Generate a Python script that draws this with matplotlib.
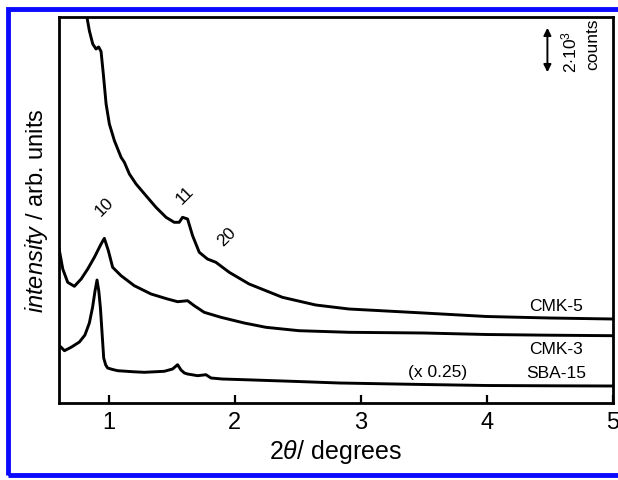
import matplotlib
matplotlib.use("Agg")
import matplotlib.pyplot as plt
from matplotlib.patches import Rectangle, FancyArrowPatch

plt.rcParams['font.family'] = ['Liberation Sans', 'DejaVu Sans']
plt.rcParams['mathtext.fontset'] = 'custom'
plt.rcParams['mathtext.rm'] = 'Liberation Sans'
plt.rcParams['mathtext.it'] = 'Liberation Sans:italic'

# ---- data (2theta in degrees, intensity in arb. units) ----
sba_x = [0.621, 0.647, 0.70, 0.766, 0.81, 0.845, 0.871, 0.89, 0.906, 0.92, 0.933,
         0.946, 0.959, 0.975, 0.99, 1.03, 1.07, 1.2, 1.282, 1.44, 1.506, 1.546,
         1.573, 1.60, 1.625, 1.705, 1.771, 1.811, 1.9, 2.075, 2.5, 2.83, 3.5,
         4.0, 4.5, 5.0]
sba_y = [55.7, 52.3, 55.7, 61, 68, 80, 96, 112, 123, 112, 95,
         70, 45, 38, 35, 33.5, 32.3, 31.2, 30.7, 31.7, 34, 38.3,
         33, 30, 29, 27.3, 28.3, 25, 24, 23.3, 21.5, 20, 18.5,
         17.5, 17.2, 17]

cmk3_x = [0.60, 0.634, 0.673, 0.726, 0.78, 0.832, 0.885, 0.938, 0.964, 0.996,
          1.03, 1.097, 1.202, 1.335, 1.466, 1.546, 1.625, 1.678, 1.757, 1.89,
          2.075, 2.247, 2.51, 2.907, 3.5, 4.0, 4.5, 5.0]
cmk3_y = [157.3, 134, 120.7, 116.7, 124, 134, 145.7, 159, 164.7, 152.3,
          135.7, 127.3, 117.3, 109, 104, 101.3, 102.3, 97.3, 90.7, 85.7,
          80, 75.7, 72.3, 70.7, 70, 68.5, 67.8, 67.3]

cmk5_x = [0.80, 0.824, 0.845, 0.872, 0.898, 0.919, 0.938, 0.956, 0.978, 1.004,
          1.044, 1.097, 1.123, 1.163, 1.216, 1.295, 1.374, 1.454, 1.519, 1.559,
          1.585, 1.625, 1.665, 1.718, 1.783, 1.85, 1.956, 2.114, 2.378, 2.643,
          2.907, 3.5, 4.0, 4.5, 5.0]
cmk5_y = [420, 387.3, 372.3, 359, 354, 356, 351.5, 329, 299, 279,
          262.3, 245.7, 240.7, 229, 219, 207.3, 195.7, 185.7, 180.7, 180.7,
          185.7, 184, 167.3, 150.7, 144, 140.7, 130.7, 119, 105.7, 98,
          94, 90, 86.5, 85, 84]

xticks = [1, 2, 3, 4, 5]

fig = plt.figure(figsize=(6.18, 4.81), dpi=100)
ax = fig.add_axes([58.5/618, 1 - 404/481, (612.5 - 58.5)/618, (404 - 17.5)/481])

lw = 2.1
for xs, ys in [(sba_x, sba_y), (cmk3_x, cmk3_y), (cmk5_x, cmk5_y)]:
    ax.plot(xs, ys, color='black', lw=lw, solid_joinstyle='round')

ax.set_xlim(0.6, 5.0)
ax.set_ylim(0, 386.5)
ax.set_xticks(xticks)
ax.set_xticklabels([str(t) for t in xticks])
ax.set_yticks([])
ax.tick_params(axis='x', direction='in', length=6, width=1.6, labelsize=17, pad=6)
for s in ax.spines.values():
    s.set_linewidth(2.0)

ax.set_xlabel(r'2$\it{\theta}$/ degrees', fontsize=18, labelpad=3)
ax.set_ylabel(r'$\it{intensity}$ / arb. units', fontsize=17, labelpad=6)

fs = 12.5
ax.text(4.55, 404 - 306.5, 'CMK-5', fontsize=fs, ha='center', va='center')
ax.text(4.55, 404 - 350, 'CMK-3', fontsize=fs, ha='center', va='center')
ax.text(4.55, 404 - 373.5, 'SBA-15', fontsize=fs, ha='center', va='center')
ax.text(3.61, 404 - 372.5, '(x 0.25)', fontsize=fs, ha='center', va='center')
ax.text(0.965, 404 - 206.7, '10', fontsize=fs, ha='center', va='center', rotation=45)
ax.text(1.60, 404 - 195, '11', fontsize=fs, ha='center', va='center', rotation=45)
ax.text(1.94, 404 - 236.7, '20', fontsize=fs, ha='center', va='center', rotation=45)

# scale bar
arr = FancyArrowPatch((4.483, 404 - 76), (4.483, 404 - 26), arrowstyle='<|-|>',
                      mutation_scale=11, lw=1.4, color='black')
ax.add_patch(arr)
ax.text(4.655, 404 - 52, r'2$\cdot$10$^3$', fontsize=fs, rotation=90, ha='center', va='center')
ax.text(4.845, 404 - 44.5, 'counts', fontsize=fs, rotation=90, ha='center', va='center')

# blue frame around the figure
fig.patches.append(Rectangle((7.5/618, 1 - 476/481), (640 - 7.5)/618, (476 - 9.5)/481,
                             transform=fig.transFigure, fill=False,
                             edgecolor='#0a0aff', lw=3.5, clip_on=False))

fig.savefig('out.png', dpi=100)
